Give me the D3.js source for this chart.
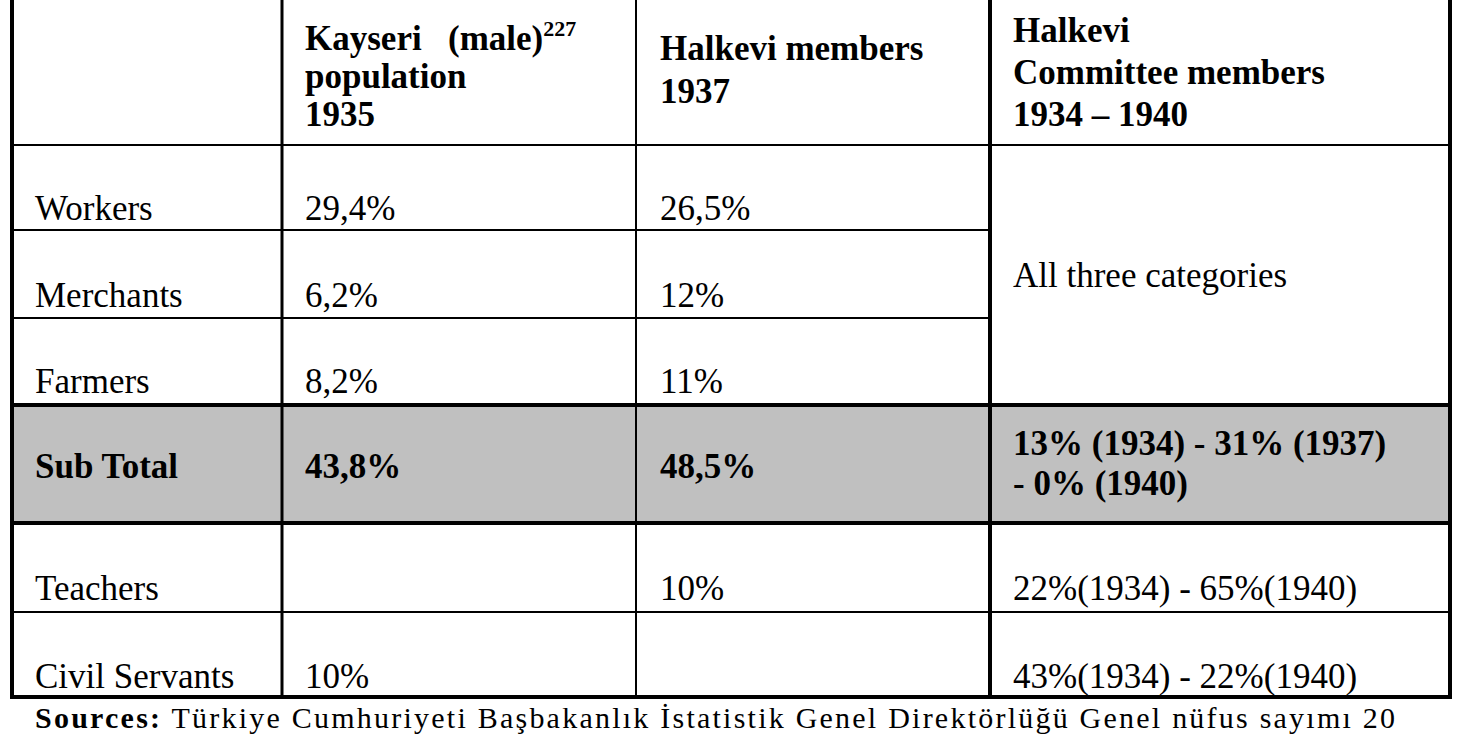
<!DOCTYPE html>
<html><head><meta charset="utf-8">
<script src="https://cdn.jsdelivr.net/npm/d3@7"></script>
<style>body{margin:0;background:#fff}text{font-family:"Liberation Serif","Times New Roman",serif}</style>
</head><body><svg id="c" width="1458" height="735"></svg>
<script>
var categories = ["Workers", "Merchants", "Farmers", "Sub Total", "Teachers", "Civil Servants"];
var kayseri = ["29,4%", "6,2%", "8,2%", "43,8%", "", "10%"];
var members = ["26,5%", "12%", "11%", "48,5%", "10%", ""];
var committee = ["All three categories", "", "", "13% (1934) - 31% (1937)|-  0% (1940)", "22%(1934) - 65%(1940)", "43%(1934) - 22%(1940)"];
var rowEdges = [145, 230, 318, 405, 523, 612, 697];

var svg = d3.select("#c");
var colX = [12, 282, 636, 990, 1450];
var fs = 35;

// grey sub total row
svg.append("rect").attr("x", colX[0]).attr("y", rowEdges[3]).attr("width", colX[4] - colX[0])
	.attr("height", rowEdges[4] - rowEdges[3]).attr("fill", "#c0c0c0");

function line(x1, y1, x2, y2, w) {
	svg.append("line").attr("x1", x1).attr("y1", y1).attr("x2", x2).attr("y2", y2)
		.attr("stroke", "#000").attr("stroke-width", w);
}

// horizontal rules
line(colX[0], rowEdges[0], colX[4], rowEdges[0], 2);
line(colX[0], rowEdges[1], colX[3], rowEdges[1], 2);
line(colX[0], rowEdges[2], colX[3], rowEdges[2], 2);
line(colX[0], rowEdges[3], colX[4], rowEdges[3], 4);
line(colX[0], rowEdges[4], colX[4], rowEdges[4], 4);
line(colX[0], rowEdges[5], colX[4], rowEdges[5], 2);
line(colX[0] - 2, rowEdges[6], colX[4] + 2, rowEdges[6], 4);

// vertical rules
line(colX[0], 0, colX[0], rowEdges[6], 4);
line(colX[1], 0, colX[1], rowEdges[6], 3);
line(colX[2], 0, colX[2], rowEdges[6], 2);
line(colX[3], 0, colX[3], rowEdges[6], 4);
line(colX[4], 0, colX[4], rowEdges[6], 4);

function txt(x, y, s, bold) {
	return svg.append("text").attr("x", x).attr("y", y).attr("font-size", fs)
		.attr("font-weight", bold ? "bold" : "normal").text(s);
}

// headers
txt(305, 50, "Kayseri", true);
var k = txt(448, 50, "(male)", true);
k.append("tspan").attr("font-size", 22).attr("dy", -14).text("227");
txt(305, 88, "population", true);
txt(305, 126, "1935", true);
txt(660, 60, "Halkevi members", true);
txt(660, 103, "1937", true);
txt(1013, 42, "Halkevi", true);
txt(1013, 84, "Committee members", true);
txt(1013, 126, "1934 – 1940", true);

var baselines = [220, 307, 393, 478, 600, 688];
categories.forEach(function(c, i) {
	var bold = c === "Sub Total";
	txt(35, baselines[i], c, bold);
	txt(305, baselines[i], kayseri[i], bold);
	txt(660, baselines[i], members[i], bold);
	if (committee[i]) {
		var parts = committee[i].split("|");
		var y = i === 0 ? 287 : (parts.length > 1 ? 455 : baselines[i]);
		parts.forEach(function(p, j) { txt(1013, y + j * 40, p, bold); });
	}
});

var s = txt(35, 728, "Sources:", true).attr("font-size", 30);
s.append("tspan").attr("font-weight", "normal").text(" Türkiye Cumhuriyeti Başbakanlık İstatistik Genel Direktörlüğü Genel nüfus sayımı 20");
s.attr("textLength", 1360).attr("lengthAdjust", "spacing");
</script></body></html>
